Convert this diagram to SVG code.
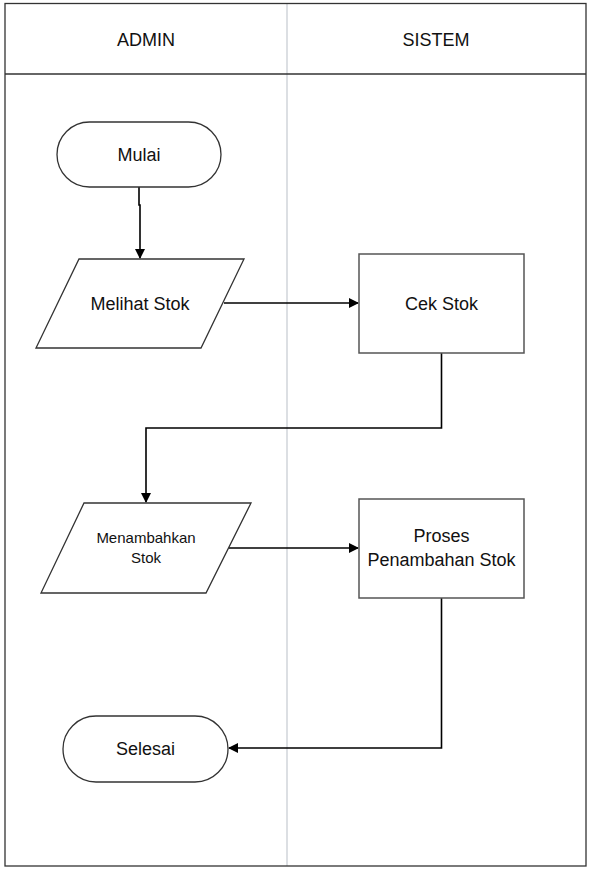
<svg xmlns="http://www.w3.org/2000/svg" width="592" height="877" viewBox="0 0 592 877">
<defs>
<style>
.lane{fill:none;stroke:#333;stroke-width:1.3}
.div{stroke:#d0d4da;stroke-width:1.5}
.shape{fill:#fff;stroke:#333;stroke-width:1.3}
.box{fill:#fff;stroke:#555;stroke-width:1.5}
.conn{fill:none;stroke:#000;stroke-width:1.6}
text{font-family:"Liberation Sans",Arial,sans-serif;fill:#111;text-anchor:middle}
.h{font-size:18px}
.t{font-size:18px}
.s{font-size:15px}
</style>
<marker id="arr" markerWidth="10" markerHeight="10" refX="9" refY="5" orient="auto" markerUnits="userSpaceOnUse">
<path d="M0,0 L10,5 L0,10 Z" fill="#000"/>
</marker>
</defs>
<rect width="592" height="877" fill="#fff"/>
<g id="lanes">
<line class="div" x1="287" y1="4" x2="287" y2="866"/>
<rect class="lane" x="5" y="3.5" width="581" height="862.5"/>
<line class="lane" x1="5" y1="74" x2="586" y2="74"/>
<text class="h" x="146" y="46">ADMIN</text>
<text class="h" x="436" y="46">SISTEM</text>
</g>
<g id="connectors">
<path class="conn" d="M139,187 V205 H140 V258" marker-end="url(#arr)"/>
<path class="conn" d="M224,303 H358" marker-end="url(#arr)"/>
<path class="conn" d="M441.5,353 V428 H146 V502" marker-end="url(#arr)"/>
<path class="conn" d="M229,548 H358" marker-end="url(#arr)"/>
<path class="conn" d="M441.5,598 V748 H229" marker-end="url(#arr)"/>
</g>
<g id="mulai">
<rect class="shape" x="57" y="122" width="164" height="65" rx="32.5"/>
<text class="t" x="139" y="161">Mulai</text>
</g>
<g id="melihat-stok">
<polygon class="shape" points="79,259 244,259 201,348 36,348"/>
<text class="t" x="140" y="310">Melihat Stok</text>
</g>
<g id="cek-stok">
<rect class="box" x="359" y="254" width="165" height="99"/>
<text class="t" x="441.5" y="310">Cek Stok</text>
</g>
<g id="menambahkan-stok">
<polygon class="shape" points="84,503 251,503 206,593 41,593"/>
<text class="s" x="146" y="543">Menambahkan</text>
<text class="s" x="146" y="563">Stok</text>
</g>
<g id="proses">
<rect class="box" x="359" y="499" width="165" height="99"/>
<text class="t" x="441.5" y="542">Proses</text>
<text class="t" x="441.5" y="566">Penambahan Stok</text>
</g>
<g id="selesai">
<rect class="shape" x="63" y="716" width="165" height="66" rx="33"/>
<text class="t" x="145.5" y="755">Selesai</text>
</g>
</svg>
